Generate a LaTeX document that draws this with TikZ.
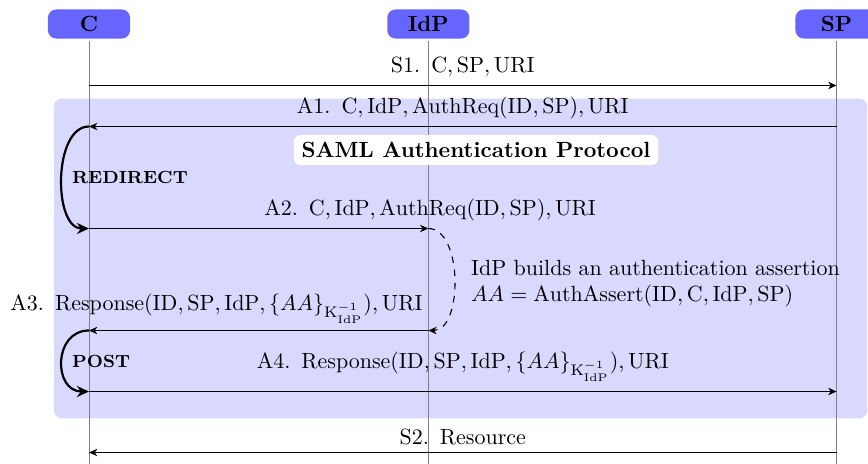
\documentclass[tikz,border=0pt]{standalone}
\usetikzlibrary{arrows.meta}
\begin{document}
\begin{tikzpicture}[x=0.454545pt,y=-0.454545pt,
  actor/.style={fill=blue!60, rounded corners=3.7pt, minimum width=37.3pt, minimum height=13.2pt, inner sep=0pt, font=\bfseries},
  lifeline/.style={draw=gray, line width=0.45pt},
  msg/.style={line width=0.5pt, -{Stealth[length=3.8pt,width=3.4pt,inset=1.2pt]}},
  loopline/.style={line width=1pt, -{Stealth[length=5.5pt,width=5pt,inset=1.8pt]}},
  lbl/.style={anchor=base, inner sep=0pt},
  tag/.style={anchor=base west, inner sep=0pt, font=\footnotesize\bfseries},
  ]
\useasboundingbox (0,0) rectangle (868,464);
% protocol background
\fill[blue!15, rounded corners=3.5pt] (54,98.7) rectangle (867,418.3);
% actors
\node[actor] (C) at (89,24) {C};
\node[actor] (I) at (428.3,24) {IdP};
\node[actor] (S) at (836.5,24) {SP};
% lifeline ends
\coordinate (Ce) at (89,464);
\coordinate (Ie) at (428.3,464);
\coordinate (Se) at (836.5,464);
\draw[lifeline] ([yshift=-1pt]C.south) -- (Ce);
\draw[lifeline] ([yshift=-1pt]I.south) -- (Ie);
\draw[lifeline] ([yshift=-1pt]S.south) -- (Se);
% message points
\coordinate (c1) at (89,85.5);   \coordinate (s1) at (836.5,85.5);
\coordinate (c2) at (89,126.5);  \coordinate (s2) at (836.5,126.5);
\coordinate (c3) at (89,228.5);  \coordinate (i3) at (428.3,228.5);
\coordinate (c4) at (89,330.5);  \coordinate (i4) at (428.3,330.5);
\coordinate (c5) at (89,391.5);  \coordinate (s5) at (836.5,391.5);
\coordinate (c6) at (89,452.5);  \coordinate (s6) at (836.5,452.5);
% title
\node[fill=white, rounded corners=3pt, font=\bfseries, inner xsep=3.5pt, inner ysep=0pt, minimum height=13.6pt] (title) at (476,150) {SAML Authentication Protocol};
% messages
\draw[msg] (c1) -- node[lbl, yshift=5.7pt] (l1) {S1.\enspace$\mathrm{C},\mathrm{SP},\mathrm{URI}$} (s1);
\draw[msg] (s2) -- node[lbl, yshift=6.05pt] (l2) {A1.\enspace$\mathrm{C},\mathrm{IdP},\mathrm{AuthReq}(\mathrm{ID},\mathrm{SP}),\mathrm{URI}$} (c2);
\draw[loopline] (c2) .. controls (53,126.5) and (53,228.5) .. (c3);
\node[tag] (redir) at (71.7,183.3) {REDIRECT};
\draw[msg] (c3) -- node[lbl, pos=1, xshift=0.8pt, yshift=6.05pt] (l3) {A2.\enspace$\mathrm{C},\mathrm{IdP},\mathrm{AuthReq}(\mathrm{ID},\mathrm{SP}),\mathrm{URI}$} (i3);
\draw[msg, dashed] (i3) .. controls (463,228.5) and (463,330.5) .. (i4);
\node[anchor=north west, inner sep=0pt, align=left] (note) at (470.7,259.7) {IdP builds an authentication assertion\\$AA=\mathrm{AuthAssert}(\mathrm{ID},\mathrm{C},\mathrm{IdP},\mathrm{SP})$};
\draw[msg] (i4) -- node[pos=0, anchor=base east, inner sep=0pt, xshift=-2.4pt, yshift=9.1pt] (l4) {A3.\enspace$\mathrm{Response}(\mathrm{ID},\mathrm{SP},\mathrm{IdP},\{AA\}_{\mathrm{K}_{\mathrm{IdP}}^{-1}}),\mathrm{URI}$} (c4);
\draw[loopline] (c4) .. controls (53,330.5) and (53,391.5) .. (c5);
\node[tag] (post) at (71.7,367.3) {POST};
\draw[msg] (c5) -- node[lbl, yshift=10.45pt] (l5) {A4.\enspace$\mathrm{Response}(\mathrm{ID},\mathrm{SP},\mathrm{IdP},\{AA\}_{\mathrm{K}_{\mathrm{IdP}}^{-1}}),\mathrm{URI}$} (s5);
\draw[msg] (s6) -- node[lbl, yshift=3.5pt] (l6) {S2.\enspace Resource} (c6);
\end{tikzpicture}
\end{document}
